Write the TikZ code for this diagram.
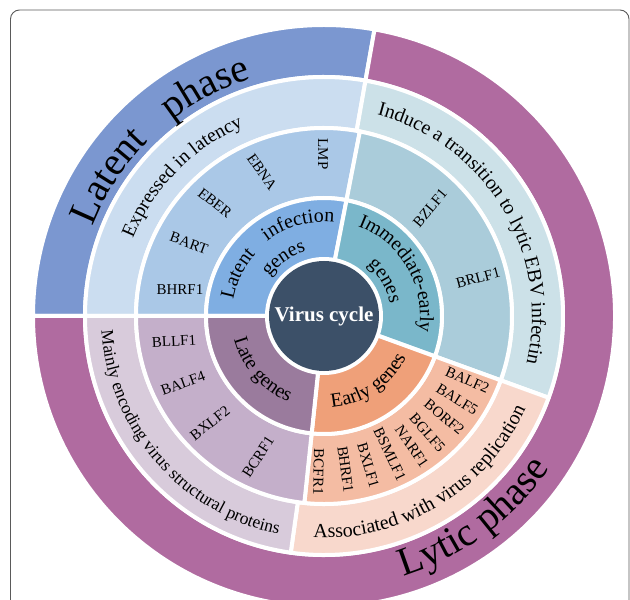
\documentclass[tikz,border=0pt]{standalone}
\usepackage{fontspec}
\setmainfont{Liberation Serif}
\usetikzlibrary{decorations.text}
\definecolor{framec}{RGB}{90,90,90}
\definecolor{latph}{RGB}{123,151,208}
\definecolor{lytph}{RGB}{176,107,160}
\definecolor{bandA}{RGB}{203,221,240}
\definecolor{bandB}{RGB}{204,225,232}
\definecolor{bandC}{RGB}{248,216,204}
\definecolor{bandD}{RGB}{216,203,219}
\definecolor{geneA}{RGB}{170,200,231}
\definecolor{geneB}{RGB}{170,204,218}
\definecolor{geneC}{RGB}{244,188,163}
\definecolor{geneD}{RGB}{196,175,202}
\definecolor{catA}{RGB}{127,174,226}
\definecolor{catB}{RGB}{122,183,202}
\definecolor{catC}{RGB}{239,160,121}
\definecolor{catD}{RGB}{154,123,157}
\definecolor{centerc}{RGB}{60,80,104}
\newcommand\mysector[5]{\filldraw[fill=#1,draw=white,line width=4pt,line join=round] (#2:#4) arc[start angle=#2,end angle=#3,radius=#4] -- (#3:#5) arc[start angle=#3,end angle=#2,radius=#5] -- cycle;}
\newcommand\cwtext[5]{\path[decorate,decoration={text along path,text align=center,text={|\fontsize{#4pt}{#4pt}\selectfont|#5}}] ({#1+#3}:#2pt) arc[start angle={#1+#3},end angle={#1-#3},radius=#2pt];}
\newcommand\ccwtext[5]{\path[decorate,decoration={text along path,text align=center,text={|\fontsize{#4pt}{#4pt}\selectfont|#5}}] ({#1-#3}:#2pt) arc[start angle={#1-#3},end angle={#1+#3},radius=#2pt];}
\tikzset{gene/.style={font=\fontsize{15pt}{15pt}\selectfont,inner sep=0pt}}
\begin{document}
\begin{tikzpicture}
\useasboundingbox (-324pt,-284pt) rectangle (306pt,316pt);
\clip (-324pt,-284pt) rectangle (306pt,316pt);
\draw[framec,line width=0.9pt,rounded corners=9pt] (-313.5pt,306pt) rectangle (305pt,-330pt);
% outer ring
\mysector{latph}{80}{180}{239pt}{291pt}
\mysector{lytph}{180}{440}{239pt}{291pt}
% band 2
\mysector{bandA}{80}{180}{188pt}{239pt}
\mysector{bandB}{-20}{80}{188pt}{239pt}
\mysector{bandC}{-98}{-20}{188pt}{239pt}
\mysector{bandD}{180}{262}{188pt}{239pt}
% band 3
\mysector{geneA}{79}{180}{118pt}{188pt}
\mysector{geneB}{-20}{79}{118pt}{188pt}
\mysector{geneC}{-96}{-20}{118pt}{188pt}
\mysector{geneD}{180}{264}{118pt}{188pt}
% band 4
\mysector{catA}{79}{180}{57pt}{118pt}
\mysector{catB}{-20}{79}{57pt}{118pt}
\mysector{catC}{-96}{-20}{57pt}{118pt}
\mysector{catD}{180}{264}{57pt}{118pt}
% center
\node[circle,fill=centerc,minimum size=110pt,inner sep=0pt,text=white,font=\fontsize{21pt}{21pt}\selectfont\bfseries] (vc) at (0,0) {Virus cycle};
% outer texts
\cwtext{147}{248}{30}{40}{Latent}
\cwtext{117.5}{248}{25}{40}{phase}
\ccwtext{-53.5}{272}{45}{40}{Lytic phase}
% band 2 texts
\cwtext{135.5}{206}{45}{19.5}{Expressed in latency}
\cwtext{31}{208}{62}{20}{Induce a transition to lytic EBV infectin}
\ccwtext{-58.7}{222}{55}{20}{Associated with virus replication}
\ccwtext{221}{223}{55}{17.5}{Mainly encoding virus structural proteins}
% band 4 texts
\cwtext{154}{92}{30}{20}{Latent}
\cwtext{105.5}{94}{35}{20}{infection}
\cwtext{125}{67}{40}{20}{genes}
\cwtext{30}{96}{60}{20}{Immediate-early}
\cwtext{30}{67}{40}{20}{genes}
\ccwtext{-56}{92}{50}{20}{Early genes}
\ccwtext{221}{93}{50}{20}{Late genes}
% latent genes
\node[gene,rotate=-90] (lmp) at (-1pt,162pt) {LMP};
\node[gene,rotate=-55] (ebna) at (-62pt,144pt) {EBNA};
\node[gene,rotate=-38] (eber) at (-109pt,113pt) {EBER};
\node[gene,rotate=-20] (bart) at (-135pt,73pt) {BART};
\node[gene,rotate=0] (bhrfa) at (-144pt,26pt) {BHRF1};
% immediate-early genes
\node[gene,rotate=50] (bzlf) at (106pt,108pt) {BZLF1};
\node[gene,rotate=15] (brlf) at (154pt,38pt) {BRLF1};
% early genes
\node[gene,rotate=-24] (balf2) at (-24:157pt) {BALF2};
\node[gene,rotate=-32] (balf5) at (-32:157pt) {BALF5};
\node[gene,rotate=-40] (borf2) at (-40:157pt) {BORF2};
\node[gene,rotate=-48.5] (bglf5) at (-48.5:156pt) {BGLF5};
\node[gene,rotate=-56] (narf1) at (-56:157pt) {NARF1};
\node[gene,rotate=-64.5] (bsmlf1) at (-64.5:153pt) {BSMLF1};
\node[gene,rotate=-73.5] (bxlf1) at (-73.5:156pt) {BXLF1};
\node[gene,rotate=-82] (bhrfb) at (-82:155pt) {BHRF1};
\node[gene,rotate=-91] (bcfr1) at (-92:156pt) {BCFR1};
% late genes
\node[gene,rotate=3] (bllf1) at (-150pt,-25pt) {BLLF1};
\node[gene,rotate=20] (balf4) at (-141pt,-67pt) {BALF4};
\node[gene,rotate=38] (bxlf2) at (-114pt,-107pt) {BXLF2};
\node[gene,rotate=57] (bcrf1) at (-66pt,-141pt) {BCRF1};
\end{tikzpicture}
\end{document}
